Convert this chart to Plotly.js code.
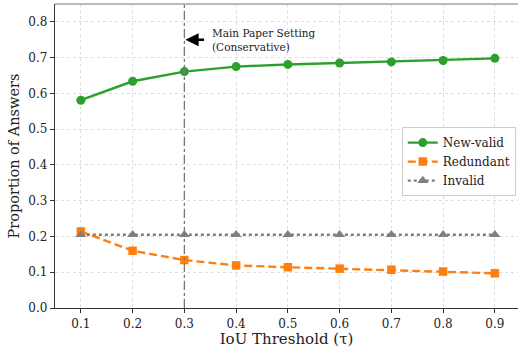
<!DOCTYPE html>
<html>
<head>
<meta charset="utf-8">
<script src="https://cdn.plot.ly/plotly-3.0.1.min.js"></script>
<style>html,body{margin:0;padding:0;background:#fff}#chart{width:518px;height:348px}</style>
</head>
<body>
<div id="chart"></div>
<script>
const thresholds = [0.1, 0.2, 0.3, 0.4, 0.5, 0.6, 0.7, 0.8, 0.9];
const newValid = [0.581, 0.634, 0.661, 0.675, 0.681, 0.685, 0.688, 0.692, 0.698];
const redundant = [0.214, 0.160, 0.134, 0.119, 0.114, 0.110, 0.107, 0.102, 0.097];
const invalid = [0.205, 0.205, 0.205, 0.205, 0.205, 0.205, 0.205, 0.205, 0.205];
const xTickLabels = ['0.1','0.2','0.3','0.4','0.5','0.6','0.7','0.8','0.9'];
const yTicks = [0.0,0.1,0.2,0.3,0.4,0.5,0.6,0.7,0.8];
const yTickLabels = ['0.0','0.1','0.2','0.3','0.4','0.5','0.6','0.7','0.8'];
const mainSetting = 0.3;

const font = "'DejaVu Serif', 'Liberation Serif', serif";
const traces = [
  {x: thresholds, y: newValid, name: 'New-valid', mode: 'lines+markers',
   line: {color: '#2ca02c', width: 2.4}, marker: {symbol: 'circle', size: 9, color: '#2ca02c'}},
  {x: thresholds, y: redundant, name: 'Redundant', mode: 'lines+markers',
   line: {color: '#ff7f0e', width: 2.4, dash: '8px,4px'}, marker: {symbol: 'square', size: 8.5, color: '#ff7f0e'}},
  {x: thresholds, y: invalid, name: 'Invalid', mode: 'lines+markers',
   line: {color: '#7f7f7f', width: 2.4, dash: 'dot'}, marker: {symbol: 'triangle-up', size: 9.5, color: '#7f7f7f'}}
];
const layout = {
  width: 518, height: 348,
  margin: {l: 55, r: 0, t: 4, b: 40, autoexpand: false},
  paper_bgcolor: '#fff', plot_bgcolor: '#fff',
  font: {family: font, size: 12, color: '#222'},
  showlegend: true,
  legend: {x: 0.749, y: 0.595, xanchor: 'left', yanchor: 'top',
    bgcolor: 'rgba(255,255,255,0.9)', bordercolor: '#cccccc', borderwidth: 1,
    font: {family: font, size: 12, color: '#222'}, tracegroupgap: 0, itemwidth: 30},
  xaxis: {range: [0.05, 0.9447], tickvals: thresholds, ticktext: xTickLabels, automargin: false,
    showgrid: true, gridcolor: '#dddddd', griddash: 'dot', gridwidth: 1,
    zeroline: false, showline: true, linecolor: '#333', linewidth: 1.2,
    ticks: 'outside', ticklen: 4, tickcolor: '#333',
    tickfont: {family: font, size: 12, color: '#222'},
    title: {text: 'IoU Threshold (τ)', font: {family: font, size: 15, color: '#222'}, standoff: 5}},
  yaxis: {range: [0, 0.85], tickvals: yTicks, ticktext: yTickLabels, automargin: false,
    showgrid: true, gridcolor: '#dddddd', griddash: 'dot', gridwidth: 1,
    zeroline: false, showline: true, linecolor: '#333', linewidth: 1.2,
    ticks: 'outside', ticklen: 4, tickcolor: '#333',
    tickfont: {family: font, size: 12, color: '#222'},
    title: {text: 'Proportion of Answers', font: {family: font, size: 14.5, color: '#222'}, standoff: 5}},
  shapes: [
    {type: 'line', xref: 'x', yref: 'paper', x0: mainSetting, x1: mainSetting, y0: 0, y1: 1,
     line: {color: '#777', width: 1.3, dash: 'dashdot'}},
    {type: 'line', xref: 'paper', yref: 'paper', x0: 0, x1: 1, y0: 1, y1: 1,
     line: {color: '#777', width: 1.2}}
  ],
  annotations: [
    {x: mainSetting + 0.002, y: 0.75, xref: 'x', yref: 'y', ax: mainSetting + 0.041, ay: 0.75,
     axref: 'x', ayref: 'y', text: '', showarrow: true, arrowhead: 2, arrowsize: 1.1, arrowwidth: 2.4,
     arrowcolor: '#000'},
    {x: mainSetting + 0.05, y: 0.75, xref: 'x', yref: 'y', xanchor: 'left', yanchor: 'middle',
     text: 'Main Paper Setting<br>(Conservative)', showarrow: false, align: 'left',
     font: {family: font, size: 10.5, color: '#222'}}
  ]
};
Plotly.newPlot('chart', traces, layout, {displayModeBar: false, staticPlot: true});
</script>
</body>
</html>
